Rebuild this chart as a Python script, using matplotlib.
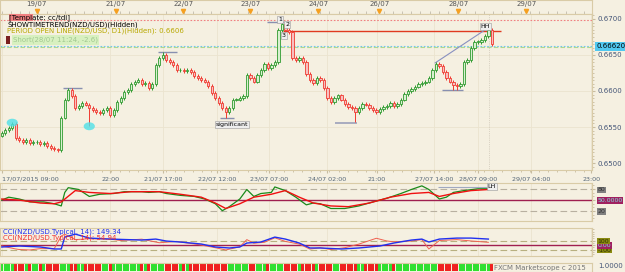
import matplotlib
matplotlib.use('Agg')
import matplotlib.pyplot as plt
from matplotlib.patches import Rectangle, Ellipse
import numpy as np

# ---- data (hourly NZD/USD) ----
first_open = 0.6538
closes = [
    0.6542, 0.6546, 0.6549, 0.6554, 0.6535, 0.6532, 0.6529, 0.6532, 0.6528, 0.6529,
    0.6529, 0.6526, 0.6528, 0.6524, 0.6521, 0.6519, 0.6518, 0.6563, 0.6588, 0.6601,
    0.6593, 0.6576, 0.6579, 0.6583, 0.6581, 0.6576, 0.6574, 0.6571, 0.6569, 0.6574,
    0.6576, 0.6567, 0.6574, 0.6585, 0.6590, 0.6599, 0.6601, 0.6610, 0.6613, 0.6615,
    0.6610, 0.6611, 0.6604, 0.6610, 0.6636, 0.6646, 0.6650, 0.6643, 0.6640, 0.6636,
    0.6629, 0.6629, 0.6628, 0.6629, 0.6626, 0.6621, 0.6618, 0.6615, 0.6613, 0.6607,
    0.6597, 0.6590, 0.6583, 0.6576, 0.6571, 0.6576, 0.6588, 0.6588, 0.6590, 0.6593,
    0.6622, 0.6618, 0.6613, 0.6622, 0.6629, 0.6638, 0.6632, 0.6636, 0.6640, 0.6685,
    0.6693, 0.6685, 0.6682, 0.6646, 0.6643, 0.6646, 0.6640, 0.6624, 0.6615, 0.6611,
    0.6618, 0.6615, 0.6604, 0.6590, 0.6585, 0.6590, 0.6594, 0.6588, 0.6582, 0.6578,
    0.6576, 0.6571, 0.6576, 0.6582, 0.6581, 0.6576, 0.6574, 0.6571, 0.6575, 0.6578,
    0.6579, 0.6583, 0.6579, 0.6582, 0.6588, 0.6596, 0.6600, 0.6603, 0.6606, 0.6610,
    0.6611, 0.6613, 0.6618, 0.6629, 0.6638, 0.6635, 0.6626, 0.6618, 0.6613, 0.6608,
    0.6607, 0.6610, 0.6640, 0.6643, 0.6660, 0.6668, 0.6668, 0.6671, 0.6676, 0.6685,
    0.6665,
]
high_marks = {3: 0.6557, 19: 0.6604, 46: 0.6654, 80: 0.6696, 139: 0.6688}
low_marks = {25: 0.6551, 64: 0.6562, 101: 0.6557, 129: 0.6601, 130: 0.6601}

# TDI-style oscillator (panel 1): (candle index, value)
tdi_green_x = [0, 2, 5, 8, 12, 15, 17, 18, 19, 22, 25, 28, 32, 35, 40, 42, 45, 47, 51, 55,
               58, 61, 63, 65, 68, 70, 72, 74, 77, 78, 81, 84, 87, 89, 91, 94, 98, 102,
               106, 110, 114, 117, 120, 122, 125, 127, 129, 132, 136, 139]
tdi_green_y = [50, 58, 53, 45, 45, 40, 34, 71, 84, 79, 60, 66, 68, 73, 73, 71, 73, 68, 63, 60,
               53, 40, 21, 32, 53, 79, 60, 68, 71, 86, 76, 58, 37, 42, 40, 27, 27, 34,
               45, 55, 68, 79, 89, 79, 53, 58, 71, 76, 81, 81]
tdi_red_x = [0, 5, 11, 15, 17, 21, 25, 31, 37, 45, 51, 57, 61, 64, 68, 72, 77, 81, 85, 89,
             94, 99, 105, 111, 117, 122, 125, 129, 134, 139]
tdi_red_y = [53, 50, 42, 40, 45, 76, 71, 68, 73, 73, 66, 58, 42, 27, 40, 58, 66, 76, 58, 42,
             34, 32, 42, 58, 68, 71, 60, 68, 76, 79]

# CCI (panel 2)
cci_blue_x = [0, 5, 11, 15, 17, 18, 21, 25, 31, 40, 44, 47, 51, 57, 61, 65, 68, 70, 74, 78,
              81, 85, 88, 91, 97, 102, 108, 112, 117, 120, 122, 125, 130, 134, 139]
cci_blue_y = [-44, -22, -44, -88, -88, 176, 242, 154, 132, 110, 132, 88, 66, 22, -44, -66,
              -44, 44, 66, 176, 132, 44, -66, -66, -88, -66, -22, 44, 110, 132, 66, 132,
              154, 154, 132]
cci_red_x = [0, 4, 5, 8, 11, 15, 17, 18, 21, 25, 31, 34, 40, 45, 50, 57, 61, 64, 68, 70,
             72, 75, 78, 81, 85, 88, 91, 94, 98, 102, 107, 110, 112, 117, 120, 122, 125,
             130, 134, 139]
cci_red_y = [-22, -88, -100, -110, -80, -80, 200, 240, 120, 140, 130, 100, 130, 50, 80, 0,
             -60, -110, -40, 120, 40, 60, 160, 80, 20, -90, -60, -100, -60, 20, 150, 90,
             70, 90, 120, -88, 100, 120, 90, 60]

top_dates = ['19/07', '21/07', '22/07', '23/07', '24/07', '26/07', '28/07', '29/07']
top_date_idx = [10, 32.6, 51.8, 71, 90.4, 107.8, 130.4, 149.8]
time_labels = ['17/07/2015 09:00', '22:00', '21/07 17:00', '22/07 12:00', '23/07 07:00',
               '24/07 02:00', '21:00', '27/07 14:00', '28/07 09:00', '29/07 04:00', '23:00']
time_idx = [0, 31, 46, 61.5, 76.4, 93, 107.2, 123.5, 136, 151.2, 168.4]

# ---- layout helpers (pixel boxes) ----
W, H = 625, 272
BG = '#f5f0e1'
EDGE = '#d9cba6'
GREEN = '#2f9a2f'
RED = '#f03a30'
XMAX = 168.6


def box(x0, y0, x1, y1):
    return [x0 / W, 1 - y1 / H, (x1 - x0) / W, (y1 - y0) / H]


def style(ax):
    ax.set_facecolor(BG)
    for s in ax.spines.values():
        s.set_color(EDGE)
        s.set_linewidth(0.8)
    ax.set_xlim(-0.5, XMAX)


fig = plt.figure(figsize=(W / 100, H / 100), dpi=100, facecolor=BG)

# ---- top date strip ----
ax_top = fig.add_axes(box(0, 0, 592, 14))
style(ax_top)
ax_top.set_ylim(0, 1)
ax_top.set_yticks([])
ax_top.set_xticks(np.arange(0, XMAX, 2.6), minor=True)
ax_top.set_xticks([])
ax_top.tick_params(which='minor', direction='in', length=2, color='#b8b0a0', width=0.5)
for lbl, xi in zip(top_dates, top_date_idx):
    ax_top.text(xi, 0.72, lbl, ha='center', va='center', fontsize=5, color='#555555')
    ax_top.plot(xi, 0.22, marker='v', color='#f5a020', markersize=3)

# ---- main price panel ----
ax = fig.add_axes(box(0, 14, 592, 170))
style(ax)
ax.set_ylim(0.649028, 0.670694)

opens = [first_open] + closes[:-1]
for i, (o, c) in enumerate(zip(opens, closes)):
    up = c >= o
    col = GREEN if up else RED
    hi = high_marks.get(i, max(o, c) + 0.00025)
    lo = low_marks.get(i, min(o, c) - 0.00025)
    ax.vlines(i, lo, hi, color=col, linewidth=0.7, zorder=3)
    h = max(abs(c - o), 0.00008)
    ax.add_patch(Rectangle((i - 0.34, min(o, c)), 0.68, h,
                           facecolor='#d8f0d0' if up else '#f8c0c0',
                           edgecolor=col, linewidth=0.6, zorder=4))

for xi in time_idx:
    ax.axvline(xi, color='#ebe3cf', linewidth=0.6, zorder=0)
for yv in [0.655, 0.660, 0.665]:
    ax.axhline(yv, color='#ebe3cf', linewidth=0.6, zorder=0)

ax.axhline(0.6699, color='#f08080', linewidth=0.8, linestyle=(0, (1.5, 1.5)), zorder=1)
ax.axhline(0.6662, color='#70c8f0', linewidth=0.8, linestyle=(0, (1.5, 1.5)), zorder=1)
ax.axhline(0.66605, color='#b0d890', linewidth=0.8, linestyle=(0, (4, 2)), zorder=1)
ax.hlines(0.66833, 80.3, 142.5, color='#e03a20', linewidth=1.0, zorder=2)
ax.axvline(139.3, color='#c0b8a8', linewidth=0.5, linestyle=':', zorder=1)

# swing markers
sw = '#8890b0'
ax.hlines(0.6604, 17.5, 23, color=sw, linewidth=1)
ax.hlines(0.6654, 44.6, 50, color=sw, linewidth=1)
ax.hlines(0.6562, 62.4, 66.4, color=sw, linewidth=1)
ax.hlines(0.6556, 95.2, 101.5, color='#a8acc0', linewidth=1.4)
ax.hlines(0.6601, 125.8, 131.8, color=sw, linewidth=1)
ax.hlines(0.6696, 75.8, 80.5, color=sw, linewidth=1)
ax.plot([123.8, 138.1], [0.6639, 0.6685], color='#8890c0', linewidth=0.8)
for xy in [(3, 0.6556), (25, 0.6551)]:
    ax.add_patch(Ellipse(xy, 3.2, 0.0011, facecolor='#50e0e8', alpha=0.8, zorder=5))

lab = dict(fontsize=4.5, ha='center', va='center', zorder=6,
           bbox=dict(boxstyle='square,pad=0.15', facecolor='#eeeeee', edgecolor='#999999', linewidth=0.4))
ax.text(65.8, 0.6553, 'significant', **lab)
ax.text(79.5, 0.66995, '1', **lab)
ax.text(81.5, 0.6692, '2', **lab)
ax.text(80.5, 0.6677, '3', **lab)
ax.text(138.2, 0.6689, 'HH', **lab)

ax.yaxis.tick_right()
ax.set_yticks([0.650, 0.655, 0.660, 0.665, 0.670])
ax.set_yticklabels(['0.6500', '0.6550', '0.6600', '0.6650', '0.6700'])
ax.set_yticks(np.arange(0.6495, 0.6705, 0.0005), minor=True)
ax.tick_params(axis='y', which='both', labelsize=5, labelcolor='#445577', color='#c8bca0',
               length=2, pad=2)
ax.tick_params(axis='y', which='minor', length=1.5)
ax.set_xticks(time_idx)
ax.set_xticklabels(time_labels)
ax.get_xticklabels()[0].set_horizontalalignment('left')
ax.set_xticks(np.arange(0, XMAX, 2.6), minor=True)
ax.tick_params(axis='x', which='both', labelsize=4.6, labelcolor='#556677', color='#c8bca0',
               length=2, pad=3)
ax.tick_params(axis='x', which='minor', length=1.5)
ax.annotate('0.66620', xy=(1.008, 0.6662), xycoords=('axes fraction', 'data'),
            fontsize=5, va='center', ha='left', color='black', annotation_clip=False,
            bbox=dict(boxstyle='square,pad=0.2', facecolor='#50c8f0', edgecolor='none'))

# overlay texts
t = ax.transAxes
ax.add_patch(Rectangle((0.016, 0.955), 0.04, 0.045, transform=t, facecolor='#f08080',
                       edgecolor='none', zorder=6))
ax.text(0.015, 0.978, '[Template: cc/tdi]', transform=t, fontsize=5, va='center', zorder=7)
ax.text(0.012, 0.934, 'SHOWTIMETREND(NZD/USD)(Hidden)', transform=t, fontsize=5,
        va='center', zorder=7)
ax.text(0.012, 0.893, 'PERIOD OPEN LINE(NZD/USD, D1)(Hidden): 0.6606', transform=t,
        fontsize=5, va='center', color='#b8a800', zorder=7)
ax.add_patch(Rectangle((0.010, 0.808), 0.007, 0.05, transform=t, facecolor='#7a2020',
                       edgecolor='none', zorder=6))
ax.text(0.022, 0.833, 'Short(28/07 11:24, -2.6)', transform=t, fontsize=5, va='center',
        color='#a0c890', zorder=7,
        bbox=dict(boxstyle='square,pad=0.2', facecolor='#d8f0c0', edgecolor='none'))

# ---- panel 1: TDI ----
ax1 = fig.add_axes(box(0, 183, 592, 221))
style(ax1)
ax1.set_ylim(-7.2, 96.8)
ax1.set_xticks([])
for xi in time_idx:
    ax1.axvline(xi, color='#ebe3cf', linewidth=0.6, zorder=0)
ax1.axhline(80, color='#b8b0a0', linewidth=0.8, linestyle=(0, (6, 3)))
ax1.axhline(20, color='#b8b0a0', linewidth=0.8, linestyle=(0, (6, 3)))
ax1.axhline(50, color='#a02050', linewidth=1.0)
ax1.plot(tdi_green_x, tdi_green_y, color='#1a8a1a', linewidth=0.9)
ax1.plot(tdi_red_x, tdi_red_y, color='#f01010', linewidth=1.0)
ax1.hlines(86, 124.5, 138.5, color='#a0a8c0', linewidth=0.8)
ax1.text(140, 88, 'LH', **lab)
ax1.yaxis.tick_right()
ax1.set_yticks([20, 50, 80])
ax1.set_yticklabels(['20', '50.0000', '80'])
ax1.set_yticks(np.arange(0, 100, 10), minor=True)
ax1.tick_params(axis='y', which='both', labelsize=4.5, length=2, color='#c8bca0', pad=2)
ax1.tick_params(axis='y', which='minor', length=1.5)
for tl, fc, tc in zip(ax1.get_yticklabels(), ['#808080', '#a02060', '#808080'],
                      ['#333333', '#80e0e0', '#333333']):
    tl.set_color(tc)
    tl.set_bbox(dict(boxstyle='square,pad=0.1', facecolor=fc, edgecolor='none'))

# ---- panel 2: CCI ----
ax2 = fig.add_axes(box(0, 228, 592, 256))
style(ax2)
ax2.set_ylim(-244, 378)
ax2.set_xticks([])
for xi in time_idx:
    ax2.axvline(xi, color='#ebe3cf', linewidth=0.6, zorder=0)
ax2.axhline(100, color='#b8b080', linewidth=0.8, linestyle=(0, (6, 3)))
ax2.axhline(-100, color='#b8b080', linewidth=0.8, linestyle=(0, (6, 3)))
ax2.axhline(0, color='#a02050', linewidth=1.0)
ax2.plot(cci_red_x, cci_red_y, color='#f06050', linewidth=0.7)
ax2.plot(cci_blue_x, cci_blue_y, color='#2030f0', linewidth=1.0)
ax2.text(0.005, 0.86, 'CCI(NZD/USD.Typical, 14): 149.34', transform=ax2.transAxes,
         fontsize=5, color='#2030f0', va='center')
ax2.text(0.005, 0.64, 'CCI(NZD/USD.Typical, 14): 54.94', transform=ax2.transAxes,
         fontsize=5, color='#f03030', va='center')
ax2.yaxis.tick_right()
ax2.set_yticks([-100, 0, 100])
ax2.set_yticklabels(['-100', '0.00', '100'])
ax2.set_yticks(np.arange(-200, 360, 50), minor=True)
ax2.tick_params(axis='y', which='both', labelsize=4.5, length=2, color='#c8bca0', pad=2)
ax2.tick_params(axis='y', which='minor', length=1.5)
for tl, fc, tc in zip(ax2.get_yticklabels(), ['#8a8a10', '#a02060', '#8a8a10'],
                      ['#303000', '#80e0e0', '#303000']):
    tl.set_color(tc)
    tl.set_bbox(dict(boxstyle='square,pad=0.1', facecolor=fc, edgecolor='none'))

# ---- bottom colour strip ----
ax3 = fig.add_axes(box(0, 263, 592, 272))
style(ax3)
ax3.set_ylim(0, 1)
ax3.set_xticks([])
ax3.set_yticks([])
cols = ['#30e030' if c >= o else '#f02020' for o, c in zip(opens, closes)]
ax3.bar(range(len(closes)), 0.9, bottom=0.1, width=0.8, color=cols)
ax3.text(0.99, 0.45, 'FXCM Marketscope c 2015', transform=ax3.transAxes, fontsize=5,
         ha='right', va='center', color='#777777')
fig.text(598 / W, 1 - 266 / H, '1.0000', fontsize=5, color='#445577', va='center')

fig.savefig('out.png', dpi=100, facecolor=BG)
